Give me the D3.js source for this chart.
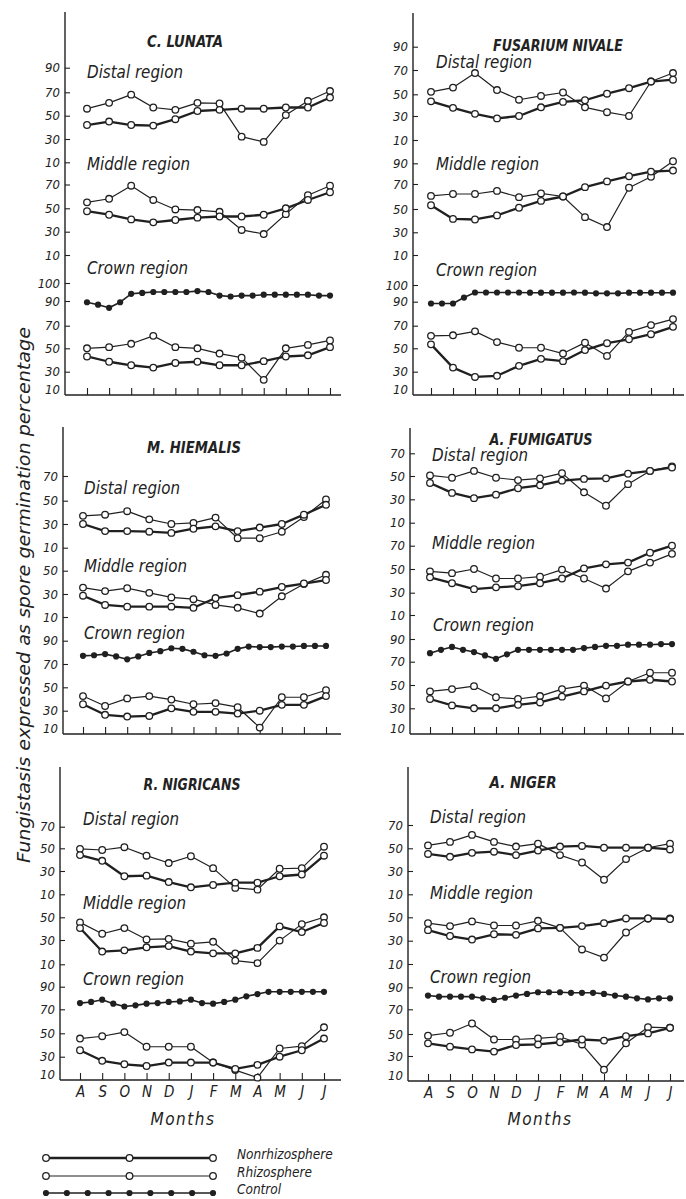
<!DOCTYPE html>
<html><head><meta charset="utf-8">
<script src="https://cdn.jsdelivr.net/npm/d3@7"></script>
<style>
body{margin:0;background:#fff}
svg{display:block}
text{fill:#222;font-family:"Liberation Sans Narrow","DejaVu Sans Condensed","Liberation Sans",sans-serif;font-style:italic}
</style></head><body>
<svg id="chart" width="686" height="1199"></svg>
<script>
// Months of sampling, August to July
const months = ["A","S","O","N","D","J","F","M","A","M","J","J"];
// Control is read at half-month intervals
const controlSteps = d3.range(0, 11.01, 0.5);

// C. lunata
const cLunataDistalNon   = [42, 45, 42, 41.5, 47, 54, 55, 56, 56, 57, 57, 65.5];
const cLunataDistalRhizo = [56, 61, 68, 57, 55, 61, 60.5, 32, 27.5, 50.5, 62.5, 71];
const cLunataMiddleNon   = [47.5, 44.5, 40.5, 38, 40, 42, 43, 43, 44.5, 50, 57, 63.5];
const cLunataMiddleRhizo = [55, 58, 69, 57, 49, 48.5, 47, 31.5, 28, 45, 61, 69];
const cLunataCrownNon    = [43, 38.5, 35.5, 33.5, 37.5, 38.5, 35.5, 35.5, 39, 43, 44, 51];
const cLunataCrownRhizo  = [50, 51, 54, 61, 51, 50, 45.5, 42, 23, 50, 53, 57];
const cLunataControl     = [89, 87, 84.5, 89, 94, 94.5, 95, 95, 95, 95, 95.5, 95, 93, 92.5, 93, 93, 93.5, 93.5, 93.5, 93.5, 93.5, 93, 93];

// Fusarium nivale
const fNivaleDistalNon   = [43.5, 37.5, 32, 28, 30, 38, 43, 44.5, 50.5, 55, 60.5, 62];
const fNivaleDistalRhizo = [52, 55.5, 67.5, 53.5, 45, 48.5, 51.5, 38, 33.5, 30, 60.5, 67.5];
const fNivaleMiddleNon   = [53, 41.5, 41, 44.5, 51, 56.5, 60, 67.5, 72.5, 77.5, 82, 83];
const fNivaleMiddleRhizo = [60.5, 62, 62, 64.5, 59.5, 62.5, 60, 43, 34.5, 67, 77, 92];
const fNivaleCrownNon    = [53.5, 33.5, 25.5, 26.5, 35, 41, 39, 48.5, 54.5, 58, 62.5, 69];
const fNivaleCrownRhizo  = [61, 61.5, 65, 55.5, 50.5, 50.5, 45.5, 55, 43.5, 64.5, 70.5, 75.5];
const fNivaleControl     = [88.5, 88.5, 88.5, 92.5, 95.5, 95.5, 95.5, 95.5, 95.5, 95.4, 95.4, 95.4, 95.4, 95.5, 95.4, 95, 95, 95, 95.4, 95.4, 95.4, 95.4, 95.4];

// M. hiemalis
const mHiemalisDistalNon   = [30, 24, 24, 23.5, 22.5, 26, 28, 24, 27, 30, 38, 46.5];
const mHiemalisDistalRhizo = [37, 38, 41, 34, 30, 31, 35.5, 18, 18, 23.5, 36, 51];
const mHiemalisMiddleNon   = [28.5, 20.5, 19, 19, 19, 18, 26.5, 29, 32, 36, 39, 42];
const mHiemalisMiddleRhizo = [35.5, 32.5, 35, 31, 27, 25.5, 20.5, 18, 13, 28, 38.5, 46.5];
const mHiemalisCrownNon    = [35.5, 26.5, 25, 25.5, 32, 29, 29, 27.5, 30, 35, 35, 42.5];
const mHiemalisCrownRhizo  = [42.5, 34, 40.5, 42.5, 39.5, 35.5, 36.5, 33, 15.5, 41.5, 41.5, 47.5];
const mHiemalisControl     = [77, 77.5, 78.5, 76.5, 74, 76.5, 79.5, 81, 83.5, 83, 80.5, 77.5, 77, 79, 83, 85, 84.5, 84.5, 85, 85, 85.5, 85.5, 85.5];

// A. fumigatus
const aFumigatusDistalNon   = [44, 35.5, 31, 34, 39.5, 42, 46, 47.5, 48, 52, 54.5, 57.5];
const aFumigatusDistalRhizo = [50.5, 48.5, 54.5, 48.5, 46.5, 48, 52.5, 36, 24.5, 43, 54.5, 58.5];
const aFumigatusMiddleNon   = [43, 38, 33, 34.5, 35.5, 38, 42, 50.5, 54, 55.5, 64, 70];
const aFumigatusMiddleRhizo = [48, 46.5, 50, 42, 42, 43.5, 49.5, 42, 33.5, 48, 55.5, 63];
const aFumigatusCrownNon    = [38, 32.5, 30, 30, 33, 35, 40, 44.5, 49.5, 53, 54.5, 53];
const aFumigatusCrownRhizo  = [44.5, 46.5, 49, 39.5, 38, 40.5, 46.5, 49.5, 38.5, 53, 60.5, 60.5];
const aFumigatusControl     = [77.5, 80.5, 83, 80.5, 78.5, 75.5, 72.5, 76.5, 80.5, 80.5, 80.5, 80.5, 80.5, 80.5, 82, 83, 84, 84, 85, 85, 85, 85.5, 85.5];

// R. nigricans
const rNigricansDistalNon   = [44, 39, 25.5, 26, 20.5, 16, 18, 20, 20, 25.5, 27, 43.5];
const rNigricansDistalRhizo = [49.5, 48.5, 51, 43.5, 37, 43, 32.5, 15.5, 14, 32, 32.5, 51.5];
const rNigricansMiddleNon   = [40.5, 20.5, 21.5, 24, 25, 20.5, 19, 19, 23.5, 42, 37, 45];
const rNigricansMiddleRhizo = [45.5, 35.5, 40.5, 30.5, 31, 27, 28.5, 13, 11, 29.5, 44, 50];
const rNigricansCrownNon    = [35.5, 26.5, 23.5, 22, 25, 25, 25, 19.5, 23, 30, 35.5, 45.5];
const rNigricansCrownRhizo  = [45.5, 47.5, 51, 38.5, 38.5, 38.5, 25, 18.5, 12, 37, 39, 55];
const rNigricansControl     = [75.5, 76.5, 78.5, 75, 72.5, 73.5, 75, 75.5, 76.5, 77, 78.5, 75.5, 75, 76.5, 78.5, 81.5, 83.5, 85.5, 85.5, 85.5, 85.5, 85.5, 85.5];

// A. niger
const aNigerDistalNon   = [45, 42.5, 46, 47, 44, 48, 51.5, 52, 50.5, 50.5, 50.5, 49];
const aNigerDistalRhizo = [52.5, 55.5, 61.5, 55.5, 51.5, 54, 44, 37.5, 22.5, 40.5, 50.5, 54];
const aNigerMiddleNon   = [39, 34, 31, 35.5, 35, 40.5, 41, 42.5, 45, 49, 49, 48.5];
const aNigerMiddleRhizo = [45, 42.5, 46.5, 43, 43, 47, 41, 22.5, 15.5, 37, 49, 49];
const aNigerCrownNon    = [41.5, 38.5, 36, 34, 40, 40.5, 42.5, 45, 44, 48, 50.5, 55];
const aNigerCrownRhizo  = [48.5, 51, 58.5, 45, 45, 46, 47.5, 40.5, 19, 41.5, 55.5, 55];
const aNigerControl     = [82.5, 81.5, 81.5, 81.5, 81.5, 80, 78.5, 80.5, 82.5, 84, 85.5, 85.5, 85.5, 85, 85, 85, 84, 82.5, 81.5, 80, 79, 80, 80];

const legendLabels = ["Nonrhizosphere", "Rhizosphere", "Control"];

const ink = "#202020";

// Panel layout: axis placement and per-region tick positions
const panels = [
  {title:"C. LUNATA", tx:185, ty:47, tw:76, axisX:65, top:12, bottom:395, x0:87, x1:330, xEnd:341, showMonths:false,
   regions:[
    {name:"Distal region", lx:87, ly:78, lw:96, ticks:[10,30,50,70,90], pos:[162.3,139,115.7,92.3,67.7], non:cLunataDistalNon, rhizo:cLunataDistalRhizo},
    {name:"Middle region", lx:87, ly:170, lw:103, ticks:[10,30,50,70], pos:[255,231.7,208.3,184.5], non:cLunataMiddleNon, rhizo:cLunataMiddleRhizo},
    {name:"Crown region", lx:87, ly:274, lw:101, ticks:[10,30,50,70,90,100], pos:[395,371.7,348.3,325.7,301,283], non:cLunataCrownNon, rhizo:cLunataCrownRhizo, control:cLunataControl}
   ]},
  {title:"FUSARIUM NIVALE", tx:558, ty:51, tw:130, axisX:413, top:13, bottom:395, x0:431, x1:673, xEnd:684, showMonths:false,
   regions:[
    {name:"Distal region", lx:436, ly:68, lw:96, ticks:[10,30,50,70,90], pos:[140,116,94.3,70,46.7], non:fNivaleDistalNon, rhizo:fNivaleDistalRhizo},
    {name:"Middle region", lx:436, ly:170, lw:103, ticks:[10,30,50,70,90], pos:[255,232.3,209,184,163.3], non:fNivaleMiddleNon, rhizo:fNivaleMiddleRhizo},
    {name:"Crown region", lx:436, ly:276, lw:101, ticks:[10,30,50,70,90,100], pos:[395,371.7,348.3,325.7,301.7,285], non:fNivaleCrownNon, rhizo:fNivaleCrownRhizo, control:fNivaleControl}
   ]},
  {title:"M. HIEMALIS", tx:194, ty:453, tw:94, axisX:63, top:427, bottom:734, x0:83, x1:326, xEnd:341, showMonths:false,
   regions:[
    {name:"Distal region", lx:84, ly:494, lw:96, ticks:[10,30,50,70], pos:[547.7,524,500.7,476], non:mHiemalisDistalNon, rhizo:mHiemalisDistalRhizo},
    {name:"Middle region", lx:84, ly:572, lw:103, ticks:[10,30,50], pos:[617,594,570.7], non:mHiemalisMiddleNon, rhizo:mHiemalisMiddleRhizo},
    {name:"Crown region", lx:84, ly:639, lw:101, ticks:[10,30,50,70,90], pos:[734,710.7,687.3,664,640.7], non:mHiemalisCrownNon, rhizo:mHiemalisCrownRhizo, control:mHiemalisControl}
   ]},
  {title:"A. FUMIGATUS", tx:541, ty:445, tw:103, axisX:410, top:428, bottom:734, x0:430, x1:672, xEnd:684, showMonths:false,
   regions:[
    {name:"Distal region", lx:432, ly:461, lw:96, ticks:[10,30,50,70], pos:[522.7,499.3,476,453.3], non:aFumigatusDistalNon, rhizo:aFumigatusDistalRhizo},
    {name:"Middle region", lx:432, ly:549, lw:103, ticks:[10,30,50,70], pos:[615,592.7,569,545.7], non:aFumigatusMiddleNon, rhizo:aFumigatusMiddleRhizo},
    {name:"Crown region", lx:433, ly:631, lw:101, ticks:[10,30,50,70,90], pos:[734,708.3,685,661.7,639], non:aFumigatusCrownNon, rhizo:aFumigatusCrownRhizo, control:aFumigatusControl}
   ]},
  {title:"R. NIGRICANS", tx:192, ty:790, tw:97, axisX:60, top:767, bottom:1080, x0:80, x1:324, xEnd:341, showMonths:true, mx:183,
   regions:[
    {name:"Distal region", lx:83, ly:825, lw:96, ticks:[10,30,50,70], pos:[894.3,871,848.3,826.7], non:rNigricansDistalNon, rhizo:rNigricansDistalRhizo},
    {name:"Middle region", lx:83, ly:909, lw:103, ticks:[10,30,50], pos:[964.3,940,917.3], non:rNigricansMiddleNon, rhizo:rNigricansMiddleRhizo},
    {name:"Crown region", lx:83, ly:985, lw:101, ticks:[10,30,50,70,90], pos:[1080,1056.7,1033.3,1009.3,986.7], non:rNigricansCrownNon, rhizo:rNigricansCrownRhizo, control:rNigricansControl}
   ]},
  {title:"A. NIGER", tx:523, ty:788, tw:67, axisX:408, top:767, bottom:1081, x0:428, x1:670, xEnd:684, showMonths:true, mx:540,
   regions:[
    {name:"Distal region", lx:430, ly:823, lw:96, ticks:[10,30,50,70], pos:[894.3,871,848.3,825], non:aNigerDistalNon, rhizo:aNigerDistalRhizo},
    {name:"Middle region", lx:430, ly:899, lw:103, ticks:[10,30,50], pos:[964,940.7,917.3], non:aNigerMiddleNon, rhizo:aNigerMiddleRhizo},
    {name:"Crown region", lx:430, ly:983, lw:101, ticks:[10,30,50,70,90], pos:[1081,1056,1034,1009.3,987.3], non:aNigerCrownNon, rhizo:aNigerCrownRhizo, control:aNigerControl}
   ]}
];

const svg = d3.select("#chart");

function drawSeries(g, x, y, values, width, steps) {
  const pts = values.map((v, i) => [x(steps ? steps[i] : i), y(v)]);
  g.append("path").attr("d", d3.line()(pts))
    .attr("fill", "none").attr("stroke", ink).attr("stroke-width", width).attr("stroke-linejoin", "round");
  return pts;
}

panels.forEach(p => {
  const g = svg.append("g");
  const x = d3.scaleLinear().domain([0, 11]).range([p.x0, p.x1]);

  // frame: vertical axis and baseline
  g.append("line").attr("x1", p.axisX).attr("x2", p.axisX).attr("y1", p.top).attr("y2", p.bottom)
    .attr("stroke", ink).attr("stroke-width", 1.4);
  g.append("line").attr("x1", p.axisX).attr("x2", p.xEnd).attr("y1", p.bottom).attr("y2", p.bottom)
    .attr("stroke", ink).attr("stroke-width", 1.6);

  // month ticks
  const xAxis = d3.axisBottom(x).tickValues(d3.range(12)).tickSize(-7).tickPadding(6)
    .tickFormat(i => p.showMonths ? months[i] : "");
  const xg = g.append("g").attr("transform", `translate(0,${p.bottom})`).call(xAxis);
  xg.select(".domain").remove();
  xg.selectAll(".tick line").attr("stroke", ink).attr("stroke-width", 1.1);
  xg.selectAll(".tick text").attr("font-size", 15).attr("font-family", null).attr("fill", ink);

  if (p.showMonths) {
    g.append("text").attr("x", p.mx).attr("y", 1125).attr("text-anchor", "middle")
      .attr("font-size", 17).attr("letter-spacing", 1.5).text("Months");
  }

  // title
  g.append("text").attr("x", p.tx).attr("y", p.ty).attr("text-anchor", "middle")
    .attr("font-size", 15).attr("font-weight", "bold")
    .attr("textLength", p.tw).attr("lengthAdjust", "spacingAndGlyphs").text(p.title);

  p.regions.forEach(r => {
    const y = d3.scaleLinear().domain(r.ticks).range(r.pos);
    const yAxis = d3.axisLeft(y).tickValues(r.ticks).tickSize(-5).tickPadding(5);
    const yg = g.append("g").attr("transform", `translate(${p.axisX},0)`).call(yAxis);
    yg.select(".domain").remove();
    yg.selectAll(".tick line").attr("stroke", ink).attr("stroke-width", 1.1);
    yg.selectAll(".tick text").attr("font-size", 13).attr("font-family", null).attr("fill", ink);
    if (r.control) {
      // the lowest crown tick sits on the baseline
      const base = yg.selectAll(".tick").filter(d => d === 10);
      base.select("line").remove();
      base.select("text").attr("dy", "-0.1em");
    }

    g.append("text").attr("x", r.lx).attr("y", r.ly).attr("font-size", 17)
      .attr("textLength", r.lw).attr("lengthAdjust", "spacingAndGlyphs").text(r.name);

    if (r.control) {
      const cp = drawSeries(g, x, y, r.control, 1.6, controlSteps);
      g.selectAll(null).data(cp).join("circle")
        .attr("cx", d => d[0]).attr("cy", d => d[1]).attr("r", 3.1).attr("fill", ink);
    }
    const rp = drawSeries(g, x, y, r.rhizo, 1.2);
    const np = drawSeries(g, x, y, r.non, 2.3);
    g.selectAll(null).data(rp.concat(np)).join("circle")
      .attr("cx", d => d[0]).attr("cy", d => d[1]).attr("r", 3.3)
      .attr("fill", "#fff").attr("stroke", ink).attr("stroke-width", 1.3);
  });
});

// shared vertical title
svg.append("text").attr("transform", "translate(30,595) rotate(-90)")
  .attr("text-anchor", "middle").attr("font-size", 17)
  .attr("textLength", 536).attr("lengthAdjust", "spacingAndGlyphs")
  .text("Fungistasis expressed as spore germination percentage");

// legend
const lx = d3.scaleLinear().domain([0, 1]).range([46, 213]);
const legendY = [1158, 1176, 1193];
const lg = svg.append("g");
legendLabels.forEach((name, i) => {
  const yy = legendY[i];
  lg.append("line").attr("x1", lx(0)).attr("x2", lx(1)).attr("y1", yy).attr("y2", yy)
    .attr("stroke", ink).attr("stroke-width", i === 0 ? 2.3 : (i === 1 ? 1.2 : 1.6));
  if (i < 2) {
    lg.selectAll(null).data([0, 0.5, 1]).join("circle")
      .attr("cx", d => lx(d)).attr("cy", yy).attr("r", 3.3)
      .attr("fill", "#fff").attr("stroke", ink).attr("stroke-width", 1.3);
  } else {
    lg.selectAll(null).data(d3.range(9).map(k => k / 8)).join("circle")
      .attr("cx", d => lx(d)).attr("cy", yy).attr("r", 3.1).attr("fill", ink);
  }
  lg.append("text").attr("x", 237).attr("y", yy + 1).attr("font-size", 13.5).text(name);
});
</script>
</body></html>
